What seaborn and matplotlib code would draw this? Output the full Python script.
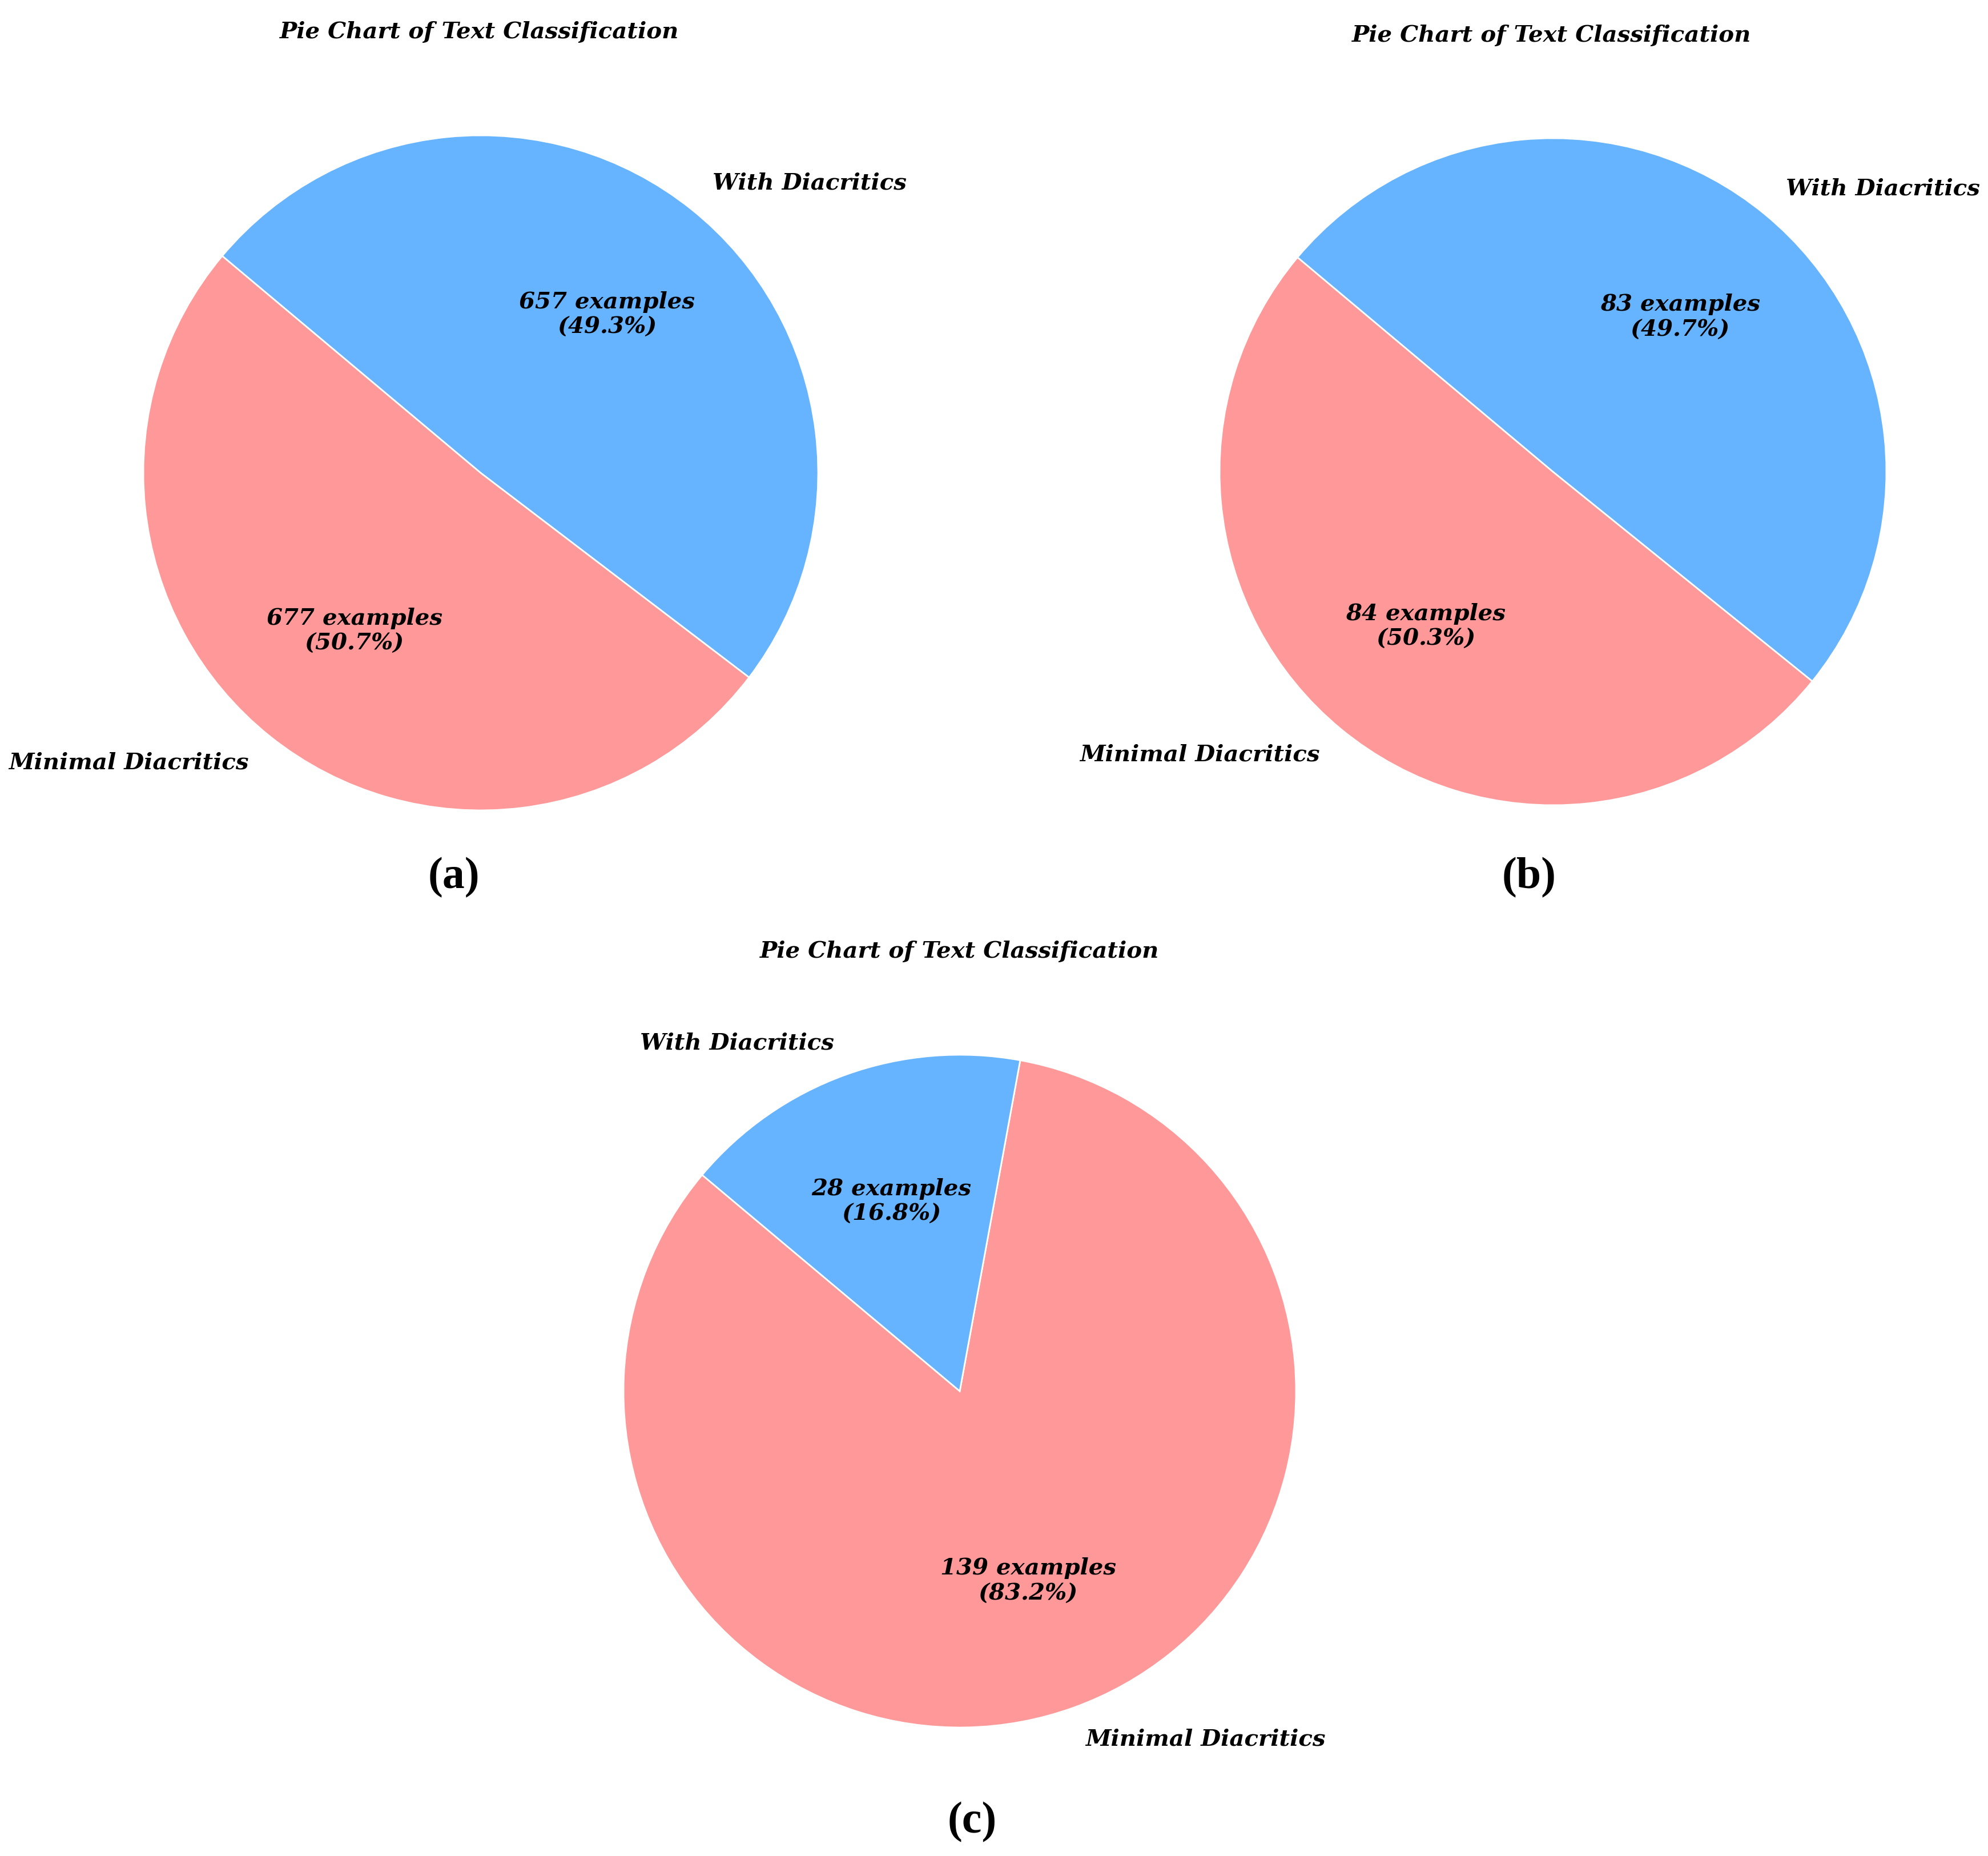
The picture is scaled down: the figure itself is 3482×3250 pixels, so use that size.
import matplotlib
matplotlib.use("Agg")
import matplotlib.pyplot as plt
import seaborn as sns

sns.set_theme(style="white")
plt.rcParams['font.family'] = ['DejaVu Serif']
plt.rcParams['text.color'] = 'black'

categories = ["Minimal Diacritics", "With Diacritics"]
counts_a = [677, 657]
counts_b = [84, 83]
counts_c = [139, 28]
colors = ["#ff9999", "#66b3ff"]
title_text = "Pie Chart of Text Classification"
panel_labels = ["(a)", "(b)", "(c)"]

W, H = 3482, 3250
fig = plt.figure(figsize=(W / 100, H / 100), dpi=100)
fig.patch.set_facecolor("white")

# (center x, center y, radius) in pixels, title pos, panel label pos
panels = [
    (counts_a, (842, 828, 591), (840, 56), (795, 1537)),
    (counts_b, (2720, 826, 584), (2718, 62), (2678, 1537)),
    (counts_c, (1681, 2436, 589), (1681, 1666), (1703, 3191)),
]

def make_autopct(vals):
    total = sum(vals)
    def f(pct):
        n = int(round(pct * total / 100.0))
        return f"{n} examples\n({pct:.1f}%)"
    return f

FS = 29
for (vals, (cx, cy, r), (tx, ty), (lx, ly)), plabel in zip(panels, panel_labels):
    side = 2.5 * r
    ax = fig.add_axes([(cx - side / 2) / W, 1 - (cy + side / 2) / H, side / W, side / H])
    wedges, texts, autotexts = ax.pie(
        vals, labels=categories, colors=colors, startangle=140,
        autopct=make_autopct(vals), pctdistance=0.6, labeldistance=1.1,
        wedgeprops=dict(edgecolor="white", linewidth=2),
        textprops=dict(fontsize=FS, fontweight="bold", fontstyle="italic",
                       family="DejaVu Serif", color="black"),
    )
    for t in autotexts:
        t.set_ha("center")
        t.set_multialignment("center")
    ax.set_xlim(-1.25, 1.25)
    ax.set_ylim(-1.25, 1.25)
    ax.set_aspect("equal")
    ax.axis("off")
    fig.text(tx / W, 1 - ty / H, title_text, ha="center", va="center", color="black",
             fontsize=FS, fontweight="bold", fontstyle="italic", family="DejaVu Serif")
    fig.text(lx / W, 1 - ly / H, plabel, ha="center", va="center", color="black",
             fontsize=56, fontweight="bold", family="Liberation Serif")

fig.savefig("out.png", dpi=100, facecolor="white")
